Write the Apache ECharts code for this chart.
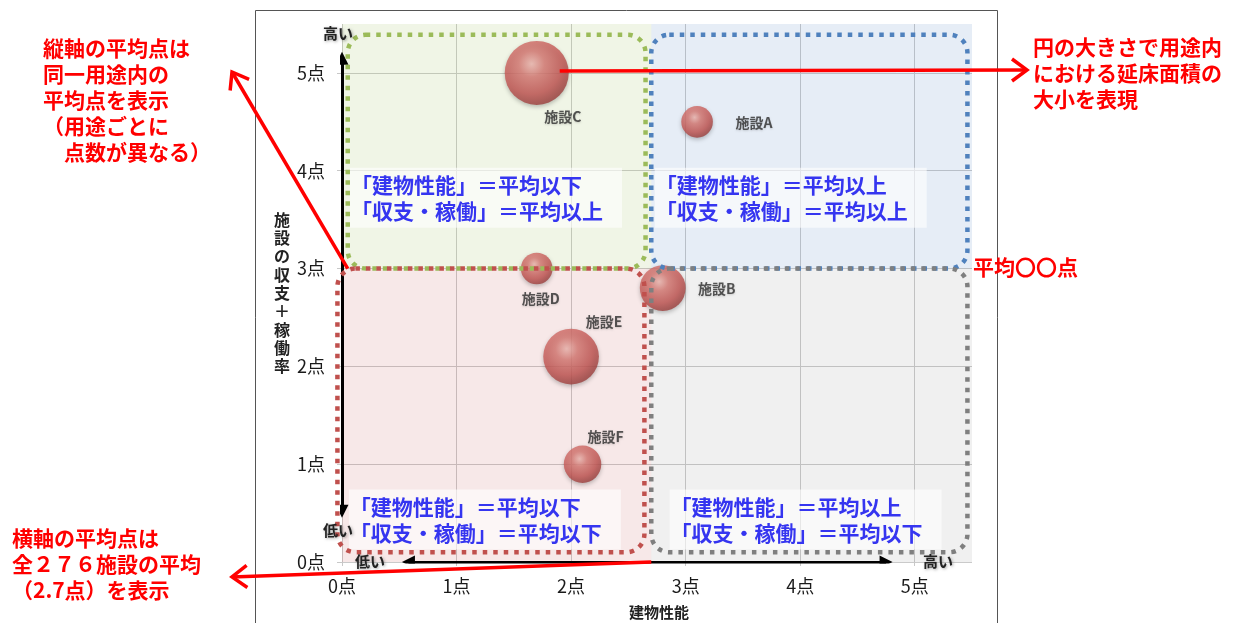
<!DOCTYPE html>
<html>
<head>
<meta charset="utf-8">
<script src="https://cdn.jsdelivr.net/npm/echarts@6/dist/echarts.min.js"></script>
<style>
  html, body { margin: 0; padding: 0; background: #fff; }
  #chart { width: 1234px; height: 623px; }
</style>
</head>
<body>
<div id="chart"></div>
<script>
// Facility portfolio: building performance vs. revenue + utilisation
const facilities     = ['施設A', '施設B', '施設C', '施設D', '施設E', '施設F'];
const buildingScore  = [3.1, 2.8, 1.7, 1.7, 2.0, 2.1];
const operationScore = [4.5, 2.8, 5.0, 3.0, 2.1, 1.0];
const floorArea      = [10, 21, 41, 10, 31, 14];   // relative gross floor area
const xTickLabels = ['0点', '1点', '2点', '3点', '4点', '5点'];
const yTickLabels = ['0点', '1点', '2点', '3点', '4点', '5点'];
const avgBuilding  = 2.7;   // mean of all 276 facilities
const avgOperation = 3.0;   // mean within the same use category
const quadrantText = {
  tl: ['「建物性能」＝平均以下', '「収支・稼働」＝平均以上'],
  tr: ['「建物性能」＝平均以上', '「収支・稼働」＝平均以上'],
  bl: ['「建物性能」＝平均以下', '「収支・稼働」＝平均以下'],
  br: ['「建物性能」＝平均以上', '「収支・稼働」＝平均以下']
};
const noteVertical   = ['縦軸の平均点は', '同一用途内の', '平均点を表示', '（用途ごとに', '　点数が異なる）'];
const noteSize       = ['円の大きさで用途内', 'における延床面積の', '大小を表現'];
const noteHorizontal = ['横軸の平均点は', '全２７６施設の平均', '（2.7点）を表示'];
const noteAverage    = '平均〇〇点';
const xAxisTitle = '建物性能';
const yAxisTitle = '施設の収支＋稼働率';

// label placement around each bubble (pixel offsets from centre)
const labelOffset = {
  '施設A': [57, 1], '施設B': [54, 1], '施設C': [26, 44],
  '施設D': [4, 30], '施設E': [33, -35], '施設F': [23, -27]
};

const JP = '"Noto Sans CJK JP", "Noto Sans", sans-serif';
const RED = '#ff0000';
const BLUE_TEXT = '#3535f0';
const AX_MAX = 5.5;

const chart = echarts.init(document.getElementById('chart'));

const sphere = {
  type: 'radial', x: 0.42, y: 0.36, r: 0.72,
  colorStops: [
    { offset: 0, color: '#f2b9b2' },
    { offset: 0.28, color: '#db7b75' },
    { offset: 0.65, color: '#c55653' },
    { offset: 1, color: '#8c3634' }
  ]
};

const points = facilities.map((name, i) => ({
  name,
  value: [buildingScore[i], operationScore[i], floorArea[i]],
  label: { offset: labelOffset[name] }
}));

const option = {
  animation: false,
  backgroundColor: '#fff',
  grid: { left: 342, top: 24, width: 630, height: 538 },
  xAxis: {
    type: 'value', min: 0, max: AX_MAX, interval: 1,
    axisLine: { show: false },
    axisTick: { show: true, length: 4, lineStyle: { color: '#c8c8c8' } },
    splitLine: { show: true, showMaxLine: false, lineStyle: { color: '#cacaca', width: 1 } },
    axisLabel: {
      margin: 15, color: '#1a1a1a', fontFamily: JP, fontSize: 18,
      showMaxLabel: false,
      formatter: v => (Number.isInteger(v) && xTickLabels[v]) ? xTickLabels[v] : ''
    }
  },
  yAxis: {
    type: 'value', min: 0, max: AX_MAX, interval: 1,
    axisLine: { show: false },
    axisTick: { show: true, length: 5, lineStyle: { color: '#c8c8c8' } },
    splitLine: { show: true, showMaxLine: false, lineStyle: { color: '#cacaca', width: 1 } },
    axisLabel: {
      margin: 17, color: '#1a1a1a', fontFamily: JP, fontSize: 18,
      showMaxLabel: false,
      formatter: v => (Number.isInteger(v) && yTickLabels[v]) ? yTickLabels[v] : ''
    }
  },
  series: [
    {
      // quadrant shading split at the two averages
      type: 'scatter', data: [], silent: true,
      markArea: {
        silent: true,
        data: [
          [{ xAxis: 0, yAxis: avgOperation, itemStyle: { color: 'rgba(155,187,89,0.15)' } }, { xAxis: avgBuilding, yAxis: AX_MAX }],
          [{ xAxis: avgBuilding, yAxis: avgOperation, itemStyle: { color: 'rgba(79,129,189,0.14)' } }, { xAxis: AX_MAX, yAxis: AX_MAX }],
          [{ xAxis: 0, yAxis: 0, itemStyle: { color: 'rgba(192,80,77,0.13)' } }, { xAxis: avgBuilding, yAxis: avgOperation }],
          [{ xAxis: avgBuilding, yAxis: 0, itemStyle: { color: 'rgba(128,128,128,0.12)' } }, { xAxis: AX_MAX, yAxis: avgOperation }]
        ]
      }
    },
    {
      // axis arrows (low → high)
      type: 'lines', coordinateSystem: 'cartesian2d', silent: true, z: 4,
      symbol: ['triangle', 'triangle'], symbolSize: 13,
      lineStyle: { color: '#000', width: 3, opacity: 1 },
      data: [
        { coords: [[0, 0.52], [0, 5.15]] },
        { coords: [[0.58, 0], [4.75, 0]] }
      ]
    },
    {
      name: '施設', type: 'scatter', z: 6,
      data: points,
      symbolSize: d => 10 * Math.sqrt(d[2]),
      itemStyle: {
        color: sphere,
        shadowBlur: 4, shadowColor: 'rgba(0,0,0,0.3)', shadowOffsetY: 2
      },
      label: {
        show: true, position: 'inside',
        formatter: p => p.name,
        color: '#2e2e2e', fontFamily: JP, fontWeight: 'bold', fontSize: 14,
        textShadowColor: 'rgba(0,0,0,0.2)', textShadowBlur: 2, textShadowOffsetY: 1
      }
    }
  ]
};

chart.setOption(option);

const px = (x, y) => chart.convertToPixel({ gridIndex: 0 }, [x, y]);

// dotted rounded outlines around each quadrant (data units)
const outlines = [
  { x: [0.05, 2.65], y: [avgOperation, 5.39], color: '#9bbb59' },
  { x: [2.70, 5.46], y: [avgOperation, 5.39], color: '#4f81bd' },
  { x: [-0.04, 2.64], y: [0.10, avgOperation], color: '#c0504d' },
  { x: [2.70, 5.46], y: [0.10, avgOperation], color: '#7f7f7f' }
];

const graphics = [];

// outer frame
graphics.push({
  type: 'rect', z: 1, silent: true,
  shape: { x: 255.5, y: 10.5, width: 742, height: 640 },
  style: { fill: 'none', stroke: '#555', lineWidth: 1 }
});

outlines.forEach(o => {
  const p1 = px(o.x[0], o.y[1]);
  const p2 = px(o.x[1], o.y[0]);
  graphics.push({
    type: 'rect', z: 20, silent: true,
    shape: { x: p1[0], y: p1[1], width: p2[0] - p1[0], height: p2[1] - p1[1], r: 18 },
    style: { fill: 'none', stroke: o.color, lineWidth: 4.5, lineDash: [4.5, 6] }
  });
});

// quadrant captions
const captionAt = [
  { key: 'tl', x: 0.07, y: 4.03 },
  { key: 'tr', x: 2.73, y: 4.03 },
  { key: 'bl', x: 0.06, y: 0.74 },
  { key: 'br', x: 2.86, y: 0.74 }
];
captionAt.forEach(c => {
  const p = px(c.x, c.y);
  graphics.push({
    type: 'rect', z: 15, silent: true,
    shape: { x: p[0], y: p[1], width: 272, height: 60 },
    style: { fill: 'rgba(255,255,255,0.6)' }
  });
  graphics.push({
    type: 'text', z: 16, silent: true,
    x: p[0] + 1, y: p[1] + 4,
    style: {
      text: quadrantText[c.key].join('\n'),
      fill: BLUE_TEXT, font: 'bold 21px ' + JP, lineHeight: 26,
      textAlign: 'left', textVerticalAlign: 'top'
    }
  });
});

// high / low markers
function tag(text, x, y) {
  graphics.push({
    type: 'text', z: 22, silent: true, x, y,
    style: {
      text, fill: '#222', font: 'bold 15px ' + JP,
      textAlign: 'center', textVerticalAlign: 'middle',
      textShadowColor: 'rgba(0,0,0,0.35)', textShadowBlur: 3, textShadowOffsetX: 1, textShadowOffsetY: 1
    }
  });
}
tag('高い', 338, 33);
tag('低い', 338, 530);
tag('低い', 370, 561);
tag('高い', 938, 561);

// axis titles
graphics.push({
  type: 'text', z: 10, silent: true, x: 282, y: 293,
  style: {
    text: yAxisTitle.split('').join('\n'), fill: '#222', font: 'bold 16px ' + JP,
    lineHeight: 18.3, textAlign: 'center', textVerticalAlign: 'middle'
  }
});
graphics.push({
  type: 'text', z: 10, silent: true, x: 659, y: 612,
  style: { text: xAxisTitle, fill: '#222', font: 'bold 15px ' + JP, textAlign: 'center', textVerticalAlign: 'middle' }
});

// red call-outs
function note(lines, x, yTop) {
  graphics.push({
    type: 'text', z: 30, silent: true, x, y: yTop,
    style: {
      text: Array.isArray(lines) ? lines.join('\n') : lines,
      fill: RED, font: 'bold 21px ' + JP, lineHeight: 26,
      textAlign: 'left', textVerticalAlign: 'top'
    }
  });
}
function arrow(from, tip) {
  const dx = tip[0] - from[0], dy = tip[1] - from[1];
  const len = Math.hypot(dx, dy), ux = dx / len, uy = dy / len;
  const L = 15, W = 11;
  graphics.push({
    type: 'line', z: 30, silent: true,
    shape: { x1: from[0], y1: from[1], x2: tip[0], y2: tip[1] },
    style: { stroke: RED, lineWidth: 3.5 }
  });
  graphics.push({
    type: 'polyline', z: 30, silent: true,
    shape: { points: [
      [tip[0] - L * ux - W * uy, tip[1] - L * uy + W * ux],
      [tip[0], tip[1]],
      [tip[0] - L * ux + W * uy, tip[1] - L * uy - W * ux]
    ] },
    style: { stroke: RED, lineWidth: 3.5, fill: 'none', lineJoin: 'miter' }
  });
}

note(noteVertical, 43, 35);
note(noteSize, 1033, 34);
note(noteHorizontal, 12, 525);
note(noteAverage, 973, 254);

const iC = facilities.indexOf('施設C');
const cPix = px(buildingScore[iC], operationScore[iC]);
arrow(px(0.05, avgOperation), [232, 72]);
arrow([cPix[0] + 23, cPix[1] - 2], [1027, 70]);
arrow(px(avgBuilding, 0), [232, 577]);

chart.setOption({ graphic: { elements: graphics } });
</script>
</body>
</html>
